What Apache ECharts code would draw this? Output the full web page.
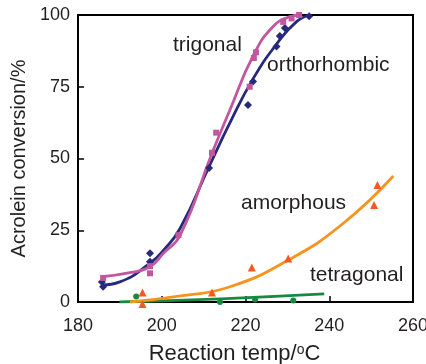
<!DOCTYPE html>
<html>
<head>
<meta charset="utf-8">
<script src="https://cdn.jsdelivr.net/npm/echarts@6/dist/echarts.min.js"></script>
<style>
  html, body { margin: 0; padding: 0; background: #fff; }
  #chart { width: 426px; height: 364px; }
</style>
</head>
<body>
<div id="chart"></div>
<script>
// measured points (temp °C, conversion %)
const trigonalPts = [[186, 8.4], [197.2, 10], [197.2, 12.5], [204, 23.3], [212, 52], [213, 59],
  [221, 75], [222, 85], [222.5, 87], [229, 97.6], [231, 98.8], [232.8, 100]];
const orthoPts = [[185.7, 7], [186, 5.3], [197.2, 17], [197.2, 14], [211.3, 46.7], [220.6, 68.6],
  [221.8, 76.8], [227.4, 89], [228.2, 92.7], [229.4, 95.5], [235.2, 99.6]];
const amorphPts = [[195.4, 3.3], [195.4, -0.7], [212, 3.3], [221.5, 12], [230.2, 15.2],
  [250.7, 33.8], [251.5, 40.8]];
const tetraPts = [[193.9, 1.9], [213.9, 0], [222.3, 0.9], [231.4, 0.5]];

// fitted curves
const trigonalFit = [[185.7, 8.8], [192.4, 10.2], [197.2, 12.3], [200.4, 17], [204.4, 23.3],
  [212, 51.8], [216.3, 67], [221.9, 86], [226.6, 96], [230.6, 99.4], [233, 100]];
const orthoFit = [[185.7, 5.9], [190, 7], [197.2, 13.5], [200.4, 18], [204.4, 25.7],
  [211.4, 47.5], [216.3, 62.5], [221.9, 78], [227.5, 90], [232.2, 97.7], [235.4, 100]];
const amorphFit = [[192.4, 0], [205, 2.2], [216.3, 5.3], [230.2, 14.6], [243, 27], [255.3, 43.9]];
const tetraFit = [[189.9, 0], [214, 1.1], [238.8, 2.8]];

const xTicks = [180, 200, 220, 240, 260];
const yTicks = [0, 25, 50, 75, 100];

const PINK = '#c2579f', NAVY = '#262a7c', ORANGE = '#f7941d', ORANGE_MK = '#f15a24', GREEN = '#178a42';
const TXT = '#231f20';
const FONT = '"Liberation Sans", Arial, sans-serif';

let chart = echarts.init(document.getElementById('chart'));

function fit(data, color) {
  return { type: 'line', data: data, smooth: true, showSymbol: false, symbol: 'none',
    lineStyle: { color: color, width: 2.8 }, z: 2, silent: true };
}
function pts(data, color, symbol, size) {
  return { type: 'scatter', data: data, symbol: symbol, symbolSize: size, clip: false,
    itemStyle: { color: color, opacity: 1 }, z: 3 };
}
function label(text, left, top) {
  return { type: 'text', left: left, top: top,
    style: { text: text, fill: TXT, font: '21px ' + FONT } };
}

chart.setOption({
  animation: false,
  backgroundColor: '#fff',
  textStyle: { fontFamily: FONT },
  grid: { left: 78, top: 15, right: 13, bottom: 62, outerBoundsMode: 'none',
    show: true, borderColor: '#000', borderWidth: 2 },
  xAxis: {
    type: 'value', min: xTicks[0], max: xTicks[xTicks.length - 1], interval: 20,
    name: 'Reaction temp/{s|o}C', nameLocation: 'middle', nameGap: 41,
    nameTextStyle: { fontSize: 22, color: TXT, padding: [0, 22, 0, 0],
      rich: { s: { fontSize: 14, verticalAlign: 'top', color: TXT, padding: [0, 0, 6, 0] } } },
    axisLine: { lineStyle: { color: '#000', width: 2 } },
    axisTick: { inside: true, length: 6, lineStyle: { color: '#000', width: 1.5 } },
    axisLabel: { fontSize: 18, color: TXT, margin: 15 },
    splitLine: { show: false }
  },
  yAxis: {
    type: 'value', min: yTicks[0], max: yTicks[yTicks.length - 1], interval: 25,
    name: 'Acrolein conversion/%', nameLocation: 'middle', nameGap: 33,
    nameTextStyle: { fontSize: 20, color: TXT },
    axisLine: { lineStyle: { color: '#000', width: 2 } },
    axisTick: { inside: true, length: 6, lineStyle: { color: '#000', width: 1.5 } },
    axisLabel: { fontSize: 18, color: TXT, margin: 8 },
    splitLine: { show: false }
  },
  series: [
    fit(tetraFit, GREEN), fit(amorphFit, ORANGE), fit(orthoFit, NAVY), fit(trigonalFit, PINK),
    pts(tetraPts, GREEN, 'circle', 6),
    pts(amorphPts, ORANGE_MK, 'triangle', 8),
    pts(orthoPts, NAVY, 'diamond', 8),
    pts(trigonalPts, PINK, 'rect', 6)
  ],
  graphic: [
    label('trigonal', 173, 35),
    label('orthorhombic', 267, 55),
    label('amorphous', 241, 193),
    label('tetragonal', 310, 265)
  ]
});
</script>
</body>
</html>
